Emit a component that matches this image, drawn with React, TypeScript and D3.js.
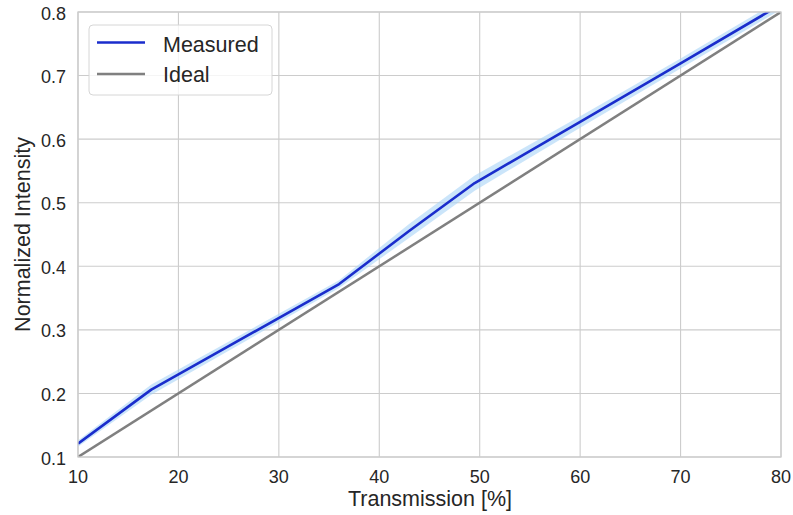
import React from "react";
import * as d3 from "d3";

const measuredX = [10, 17.3, 36, 43, 49.5, 60, 70, 80];
const measuredY = [0.121, 0.206, 0.372, 0.456, 0.531, 0.627, 0.719, 0.812];
const bandHalf = [0.005, 0.008, 0.006, 0.011, 0.012, 0.009, 0.008, 0.008];
const idealX = [10, 80];
const idealY = [0.1, 0.8];
const xTicks = [10, 20, 30, 40, 50, 60, 70, 80];
const yTicks = [0.1, 0.2, 0.3, 0.4, 0.5, 0.6, 0.7, 0.8];

const W = 793, H = 515;
const L = 78, R = 781, T = 12, B = 457;
const FONT = "'Liberation Sans', Arial, sans-serif";
const TXT = "#262626";

export default function App() {
  const x = d3.scaleLinear().domain([10, 80]).range([L, R]);
  const y = d3.scaleLinear().domain([0.1, 0.8]).range([B, T]);
  const pts = measuredX.map((v, i) => ({ x: v, y: measuredY[i], h: bandHalf[i] }));
  const line = d3.line<{ x: number; y: number }>().x(d => x(d.x)).y(d => y(d.y));
  const area = d3.area<{ x: number; y: number; h: number }>()
    .x(d => x(d.x)).y0(d => y(d.y - d.h)).y1(d => y(d.y + d.h));
  const ideal = idealX.map((v, i) => ({ x: v, y: idealY[i] }));
  return (
    <svg width={W} height={H} style={{ position: "absolute", left: 0, top: 0, background: "#fff" }}>
      <defs>
        <clipPath id="clip"><rect x={L} y={T} width={R - L} height={B - T} /></clipPath>
      </defs>
      <rect x={0} y={0} width={W} height={H} fill="#fff" />
      {xTicks.map(t => (
        <line key={"gx" + t} x1={x(t)} x2={x(t)} y1={T} y2={B} stroke="#cccccc" strokeWidth={1.1} />
      ))}
      {yTicks.map(t => (
        <line key={"gy" + t} x1={L} x2={R} y1={y(t)} y2={y(t)} stroke="#cccccc" strokeWidth={1.1} />
      ))}
      <g clipPath="url(#clip)">
        <path d={area(pts) || ""} fill="#a8d4f7" opacity={0.6} />
        <path d={line(ideal) || ""} fill="none" stroke="#808080" strokeWidth={2.5} />
        <path d={line(pts) || ""} fill="none" stroke="#1a2dcc" strokeWidth={2.6} strokeLinejoin="round" />
      </g>
      <rect x={L} y={T} width={R - L} height={B - T} fill="none" stroke="#cccccc" strokeWidth={1.3} />
      {xTicks.map(t => (
        <text key={"tx" + t} x={x(t)} y={483} textAnchor="middle" fontFamily={FONT} fontSize={18} fill={TXT}>{t}</text>
      ))}
      {yTicks.map(t => (
        <text key={"ty" + t} x={66} y={y(t) + 7.5} textAnchor="end" fontFamily={FONT} fontSize={18} fill={TXT}>{t.toFixed(1)}</text>
      ))}
      <text x={430} y={506} textAnchor="middle" fontFamily={FONT} fontSize={21.5} fill={TXT}>Transmission [%]</text>
      <text transform={`translate(30,${(T + B) / 2}) rotate(-90)`} textAnchor="middle" fontFamily={FONT} fontSize={21.5} fill={TXT}>Normalized Intensity</text>
      <g>
        <rect x={89} y={25} width={183} height={70} rx={4} fill="#fff" fillOpacity={0.8} stroke="#d6d6d6" strokeWidth={1} />
        <line x1={97} x2={145} y1={42.5} y2={42.5} stroke="#1a2dcc" strokeWidth={2.6} />
        <text x={163} y={51.5} fontFamily={FONT} fontSize={21.5} fill={TXT}>Measured</text>
        <line x1={97} x2={145} y1={74} y2={74} stroke="#808080" strokeWidth={2.5} />
        <text x={163} y={81.5} fontFamily={FONT} fontSize={21.5} fill={TXT}>Ideal</text>
      </g>
    </svg>
  );
}
